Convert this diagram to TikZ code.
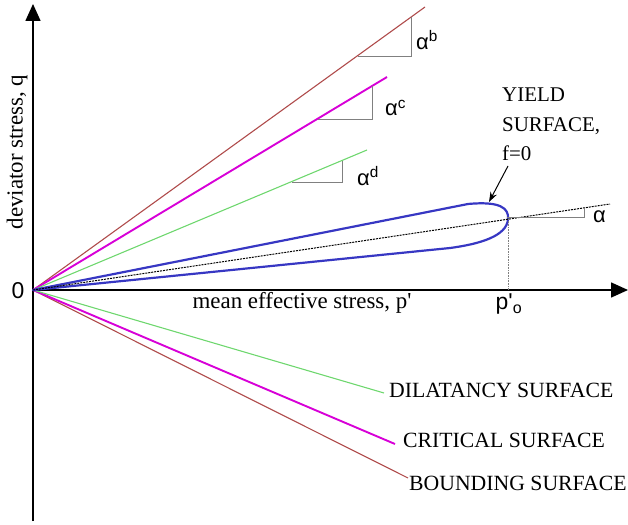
\documentclass[tikz,border=0pt]{standalone}
\usepackage{fontspec}
\setmainfont{Liberation Serif}
\setsansfont{Liberation Sans}
\usepackage{xcolor}
\usetikzlibrary{arrows.meta,positioning}

\definecolor{bndred}{RGB}{175,75,75}
\definecolor{critmag}{RGB}{215,0,215}
\definecolor{dilgreen}{RGB}{110,215,110}
\definecolor{yldblue}{RGB}{55,55,195}

\tikzset{
  axis/.style={line width=1.6pt, -{Triangle[length=17bp,width=15bp]}},
  bndline/.style={draw=bndred, line width=1.1pt},
  critline/.style={draw=critmag, line width=1.9pt},
  dilline/.style={draw=dilgreen, line width=1.1pt},
  yieldline/.style={draw=yldblue, line width=2.2pt, line join=round},
  alphaline/.style={draw=black, line width=1pt, dash pattern=on 2pt off 1pt},
  slopetri/.style={draw=gray, line width=0.8pt},
  sanslbl/.style={font=\sffamily\fontsize{23}{26}\selectfont},
  anglbl/.style={font=\sffamily\fontsize{22}{24}\selectfont, anchor=west, inner sep=0pt},
  surflbl/.style={font=\fontsize{21.8}{25}\selectfont, anchor=west, inner sep=0pt},
}

\begin{document}
\begin{tikzpicture}[x=1bp, y=-1bp]
  \useasboundingbox (0,0) rectangle (628,525);
  % --- axes ---
  \coordinate (O) at (33,290);
  \coordinate (qtop) at (33,4);
  \coordinate (qbot) at (33,521);
  \coordinate (pend) at (628,290);
  \draw[axis] (qbot) -- (qtop);
  \draw[axis] (O) -- (pend);
  \node[sanslbl] (zero) at (18,291) {0};
  \node[font=\fontsize{23}{26}\selectfont] (plbl) at (302,303) {mean effective stress, p\textquotesingle};
  \node[font=\fontsize{23}{26}\selectfont, rotate=90] (qlbl) at (17,152) {deviator stress, q};

  % --- surfaces, upper side ---
  \coordinate (bu) at (425,7);
  \coordinate (cu) at (387,77);
  \coordinate (du) at (367,150);
  \draw[bndline] (O) -- (bu);
  \draw[critline] (O) -- (cu);
  \draw[dilline] (O) -- (du);

  % --- surfaces, lower side ---
  \coordinate (bl) at (408,478);
  \coordinate (cl) at (395,444);
  \coordinate (dl) at (384,393);
  \draw[bndline] (O) -- (bl);
  \draw[critline] (O) -- (cl);
  \draw[dilline] (O) -- (dl);
  \node[surflbl] (dlbl) at (389,390) {DILATANCY SURFACE};
  \node[surflbl] (clbl) at (403,440) {CRITICAL SURFACE};
  \node[surflbl] (blbl) at (409,483) {BOUNDING SURFACE};

  % --- slopes ---
  \draw[slopetri] (358,56) -- (411,56) -- (411,17);
  \node[anglbl] (ab) at (416,40) {α\textsuperscript{b}};
  \draw[slopetri] (318,119) -- (372,119) -- (372,86);
  \node[anglbl] (ac) at (385,108) {α\textsuperscript{c}};
  \draw[slopetri] (292,182) -- (342,182) -- (342,161);
  \node[anglbl] (ad) at (357,176) {α\textsuperscript{d}};

  % --- yield surface ---
  \coordinate (ya) at (610,204);
  \coordinate (ytip) at (508,219);
  \draw[yieldline] (O) -- (468,204)
    .. controls (500,201) and (509,208) .. (ytip)
    .. controls (507,236) and (480,244) .. (450,248) -- cycle;
  \draw[alphaline] (O) -- (ya);
  \draw[slopetri] (507,217) -- (584,217) -- (584,208);
  \node[anglbl] (al) at (593,217) {α};
  \draw[gray, line width=0.6pt, densely dotted] (ytip) -- (508,290);
  \node[sanslbl] (po) at (509,304) {p\textquotesingle\textsubscript{o}};

  % --- yield label ---
  \node[font=\fontsize{21}{29.5}\selectfont, align=left, anchor=north west, inner sep=0pt] (ylbl) at (502,88) {YIELD\\SURFACE,\\f=0};
  \coordinate (yarr) at (489,202);
  \draw[line width=1pt, -{Stealth[length=10bp,width=7bp]}] (508,166) -- (yarr);
\end{tikzpicture}
\end{document}
